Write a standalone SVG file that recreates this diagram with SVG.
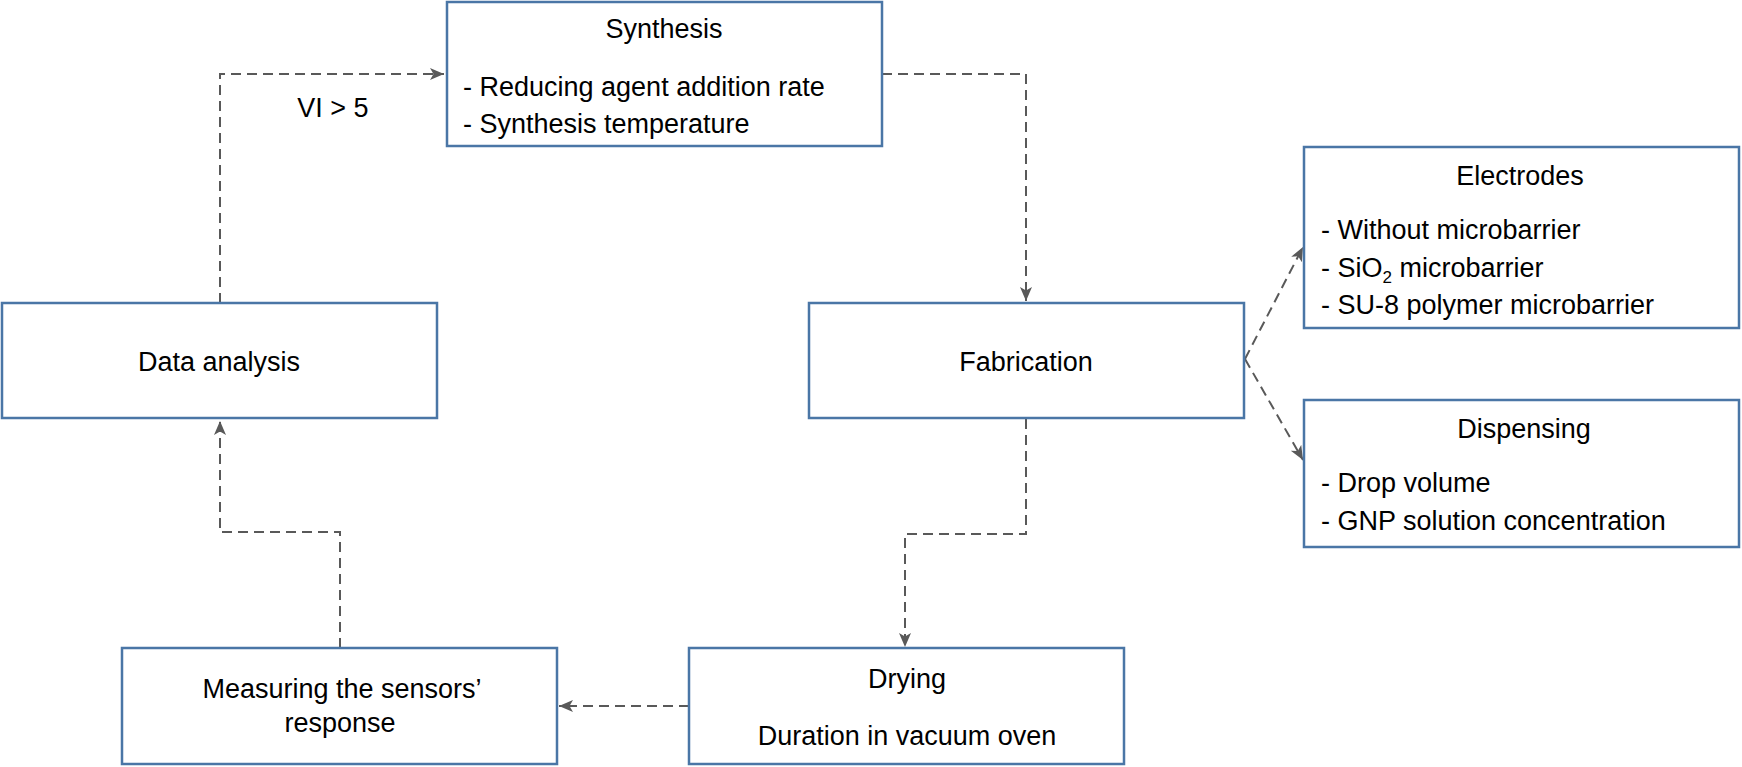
<svg xmlns="http://www.w3.org/2000/svg" width="1742" height="767" viewBox="0 0 1742 767">
<style>
.box{fill:#fff;stroke:#4a76a6;stroke-width:2.5}
.t{font-family:"Liberation Sans",Arial,sans-serif;font-size:27px;fill:#000}
.c{text-anchor:middle}
.con{fill:none;stroke:#595959;stroke-width:2;stroke-dasharray:10 6}
</style>
<defs>
<marker id="arr" markerUnits="userSpaceOnUse" markerWidth="15" markerHeight="14" refX="14" refY="7" orient="auto">
<path d="M0,1 L14,7 L0,13 L3.5,7 z" fill="#595959"/>
</marker>
</defs>
<g id="connectors">
<path class="con" d="M220,303 V74 H444" marker-end="url(#arr)"/>
<path class="con" d="M882,74 H1026 V301" marker-end="url(#arr)"/>
<path class="con" d="M1245,359 L1303,247" marker-end="url(#arr)"/>
<path class="con" d="M1245,359 L1303,460" marker-end="url(#arr)"/>
<path class="con" d="M1026,419 V534 H905 V647" marker-end="url(#arr)"/>
<path class="con" d="M689,706 H559" marker-end="url(#arr)"/>
<path class="con" d="M340,648 V532 H220 V421" marker-end="url(#arr)"/>
<text class="t c" x="333" y="117">VI &gt; 5</text>
</g>
<g id="synthesis">
<rect class="box" x="447" y="2" width="435" height="144"/>
<text class="t c" x="664" y="38">Synthesis</text>
<text class="t" x="463" y="96">- Reducing agent addition rate</text>
<text class="t" x="463" y="133">- Synthesis temperature</text>
</g>
<g id="data-analysis">
<rect class="box" x="2" y="303" width="435" height="115"/>
<text class="t c" x="219" y="371">Data analysis</text>
</g>
<g id="fabrication">
<rect class="box" x="809" y="303" width="435" height="115"/>
<text class="t c" x="1026" y="371">Fabrication</text>
</g>
<g id="electrodes">
<rect class="box" x="1304" y="147" width="435" height="181"/>
<text class="t c" x="1520" y="185">Electrodes</text>
<text class="t" x="1321" y="239">- Without microbarrier</text>
<text class="t" x="1321" y="277">- SiO<tspan font-size="17" dy="6">2</tspan><tspan dy="-6"> microbarrier</tspan></text>
<text class="t" x="1321" y="314">- SU-8 polymer microbarrier</text>
</g>
<g id="dispensing">
<rect class="box" x="1304" y="400" width="435" height="147"/>
<text class="t c" x="1524" y="438">Dispensing</text>
<text class="t" x="1321" y="492">- Drop volume</text>
<text class="t" x="1321" y="530">- GNP solution concentration</text>
</g>
<g id="drying">
<rect class="box" x="689" y="648" width="435" height="116"/>
<text class="t c" x="907" y="688">Drying</text>
<text class="t c" x="907" y="745">Duration in vacuum oven</text>
</g>
<g id="measuring">
<rect class="box" x="122" y="648" width="435" height="116"/>
<text class="t c" x="342" y="698">Measuring the sensors’</text>
<text class="t c" x="340" y="732">response</text>
</g>
</svg>
